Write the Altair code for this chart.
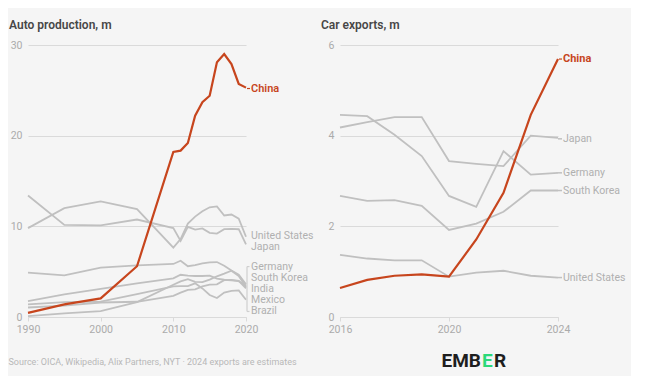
import altair as alt
import pandas as pd

# ---------------- data ----------------
prod_years = [1990, 1995, 2000, 2005, 2010, 2011, 2012, 2013, 2014, 2015, 2016, 2017, 2018, 2019, 2020]
prod_china = [0.45, 1.40, 2.05, 5.6, 18.2, 18.35, 19.2, 22.2, 23.7, 24.4, 28.1, 29.0, 27.9, 25.7, 25.3]
prod_us = [9.8, 12.0, 12.75, 11.9, 7.65, 8.6, 10.3, 11.07, 11.66, 12.1, 12.2, 11.2, 11.3, 10.85, 8.85]
prod_japan = [13.4, 10.15, 10.1, 10.75, 9.8, 8.4, 9.94, 9.63, 9.77, 9.28, 9.2, 9.69, 9.73, 9.68, 8.0]
prod_germany = [4.9, 4.6, 5.45, 5.7, 5.85, 6.2, 5.6, 5.72, 5.91, 6.03, 6.06, 5.65, 5.12, 4.66, 3.6]
prod_korea = [1.75, 2.5, 3.1, 3.7, 4.27, 4.66, 4.56, 4.52, 4.52, 4.56, 4.23, 4.11, 4.03, 3.95, 3.45]
prod_india = [0.1, 0.4, 0.65, 1.64, 3.56, 3.93, 4.17, 3.88, 3.84, 4.13, 4.49, 4.78, 5.1, 4.52, 3.3]
prod_mexico = [1.05, 1.25, 1.6, 1.68, 2.34, 2.68, 3.0, 3.05, 3.37, 3.57, 3.6, 4.07, 4.1, 3.99, 3.15]
prod_brazil = [1.4, 1.65, 1.7, 2.53, 3.38, 3.41, 3.4, 3.71, 3.15, 2.43, 2.1, 2.7, 2.88, 2.94, 1.9]

exp_years = [2016, 2017, 2018, 2019, 2020, 2021, 2022, 2023, 2024]
exp_china = [0.64, 0.82, 0.91, 0.94, 0.89, 1.71, 2.74, 4.46, 5.69]
exp_japan = [4.18, 4.30, 4.41, 4.41, 3.44, 3.38, 3.33, 4.00, 3.95]
exp_germany = [4.46, 4.43, 4.02, 3.55, 2.67, 2.43, 3.66, 3.14, 3.18]
exp_korea = [2.67, 2.56, 2.58, 2.45, 1.92, 2.06, 2.32, 2.79, 2.79]
exp_us = [1.37, 1.29, 1.25, 1.25, 0.89, 0.98, 1.02, 0.91, 0.87]

prod_series = {
    "United States": prod_us, "Japan": prod_japan, "Germany": prod_germany,
    "South Korea": prod_korea, "India": prod_india, "Mexico": prod_mexico,
    "Brazil": prod_brazil, "China": prod_china,
}
exp_series = {
    "Japan": exp_japan, "Germany": exp_germany, "South Korea": exp_korea,
    "United States": exp_us, "China": exp_china,
}

# label anchor heights (in data units, spread so labels don't collide)
prod_label_names = ["China", "United States", "Japan", "Germany", "South Korea", "India", "Mexico", "Brazil"]
prod_label_pos = [25.2, 8.92, 7.72, 5.56, 4.33, 3.04, 1.85, 0.61]
exp_label_names = ["China", "Japan", "Germany", "South Korea", "United States"]
exp_label_pos = [5.69, 3.93, 3.18, 2.79, 0.87]

SOURCE = "Source: OICA, Wikipedia, Alix Partners, NYT · 2024 exports are estimates"

# ---------------- style ----------------
FONT = "Roboto"
RED = "#C7451D"
GREY = "#C0C0C0"
LABEL_GREY = "#B0B0B0"
AXIS_GREY = "#ABABAB"
GRID = "#DADADA"
BG = "#F5F5F5"
W, H = 218, 272


def long_df(years, series):
    rows = []
    for name, vals in series.items():
        for yr, v in zip(years, vals):
            rows.append({"year": yr, "value": v, "series": name})
    return pd.DataFrame(rows)


def panel(years, series, label_names, label_pos, ydomain, yvalues, xvalues, title, bold_china, extra=None):
    df = long_df(years, series)
    xscale = alt.Scale(domain=[years[0], years[-1]], nice=False, zero=False)
    yscale = alt.Scale(domain=ydomain, nice=False, zero=True)
    xaxis = alt.Axis(values=xvalues, format="d", title=None, grid=False, domain=True,
                     domainColor=GRID, domainWidth=1.2, ticks=True, tickColor=GRID, tickSize=4,
                     labelColor=AXIS_GREY, labelFontSize=10.5, labelFont=FONT, labelPadding=3,
                     labelFlush=False)
    yaxis = alt.Axis(values=yvalues, title=None, domain=False, ticks=False, grid=True,
                     gridColor=GRID, gridWidth=1.2, labelColor=AXIS_GREY, labelFontSize=10.5,
                     labelFont=FONT, labelPadding=6)
    base = alt.Chart(df)
    grey = base.transform_filter(alt.datum.series != "China").mark_line(
        color=GREY, strokeWidth=1.8, interpolate="linear"
    ).encode(
        x=alt.X("year:Q", scale=xscale, axis=xaxis),
        y=alt.Y("value:Q", scale=yscale, axis=yaxis),
        detail="series:N",
    )
    china = base.transform_filter(alt.datum.series == "China").mark_line(
        color=RED, strokeWidth=2.2
    ).encode(x=alt.X("year:Q", scale=xscale), y=alt.Y("value:Q", scale=yscale))

    ldf = pd.DataFrame({"series": label_names, "pos": label_pos, "year": [years[-1]] * len(label_names)})
    lbase = alt.Chart(ldf)
    lab_grey = lbase.transform_filter(alt.datum.series != "China").mark_text(
        align="left", baseline="middle", dx=5, font=FONT, fontSize=10.5, color=LABEL_GREY
    ).encode(x=alt.X("year:Q", scale=xscale), y=alt.Y("pos:Q", scale=yscale), text="series:N")
    lab_china = lbase.transform_filter(alt.datum.series == "China").mark_text(
        align="left", baseline="middle", dx=5, font=FONT, fontSize=11,
        fontWeight="bold" if bold_china else 600, color=RED
    ).encode(x=alt.X("year:Q", scale=xscale), y=alt.Y("pos:Q", scale=yscale), text="series:N")
    dash_china = lbase.transform_filter(alt.datum.series == "China").mark_rule(
        color=RED, strokeWidth=1.2, xOffset=1, x2Offset=4
    ).encode(x=alt.X("year:Q", scale=xscale), x2="year:Q", y=alt.Y("pos:Q", scale=yscale))

    ttl = alt.Chart(pd.DataFrame({"t": [title]})).mark_text(
        align="left", baseline="middle", font=FONT, fontSize=12, fontWeight=600, color="#474747"
    ).encode(x=alt.value(-19), y=alt.value(-20), text="t:N")

    layers = [grey, china, lab_grey, lab_china, dash_china, ttl]
    if extra is not None:
        layers += extra(lbase, xscale, yscale)
    return alt.layer(*layers).properties(width=W, height=H)


def left_extra(lbase, xscale, yscale):
    br = pd.DataFrame({"year": [prod_years[-1]], "top": [prod_label_pos[3]], "bot": [prod_label_pos[-1]]})
    b = alt.Chart(br)
    vert = b.mark_rule(color="#CFCFCF", strokeWidth=1.2, xOffset=1).encode(
        x=alt.X("year:Q", scale=xscale), y=alt.Y("top:Q", scale=yscale), y2="bot:Q")
    tip1 = b.mark_rule(color="#CFCFCF", strokeWidth=1.2, xOffset=1, x2Offset=3.5).encode(
        x=alt.X("year:Q", scale=xscale), x2="year:Q", y=alt.Y("top:Q", scale=yscale))
    tip2 = b.mark_rule(color="#CFCFCF", strokeWidth=1.2, xOffset=1, x2Offset=3.5).encode(
        x=alt.X("year:Q", scale=xscale), x2="year:Q", y=alt.Y("bot:Q", scale=yscale))
    src = alt.Chart(pd.DataFrame({"t": [SOURCE]})).mark_text(
        align="left", baseline="middle", font=FONT, fontSize=9, color="#B8B8B8"
    ).encode(x=alt.value(-19.5), y=alt.value(H + 45), text="t:N")
    return [vert, tip1, tip2, src]


def right_extra(lbase, xscale, yscale):
    dash = lbase.transform_filter(alt.datum.series != "China").mark_rule(
        color=GREY, strokeWidth=1.5, xOffset=0, x2Offset=4
    ).encode(x=alt.X("year:Q", scale=xscale), x2="year:Q", y=alt.Y("pos:Q", scale=yscale))
    emb = alt.Chart(pd.DataFrame({"t": ["EMB"]})).mark_text(
        align="right", baseline="middle", font=FONT, fontSize=19, fontWeight="bold", color="#1E1E1E"
    ).encode(x=alt.value(141), y=alt.value(H + 44), text="t:N")
    e = alt.Chart(pd.DataFrame({"t": ["E"]})).mark_text(
        align="left", baseline="middle", font=FONT, fontSize=19, fontWeight="bold", color="#2BD979"
    ).encode(x=alt.value(142), y=alt.value(H + 44), text="t:N")
    r = alt.Chart(pd.DataFrame({"t": ["R"]})).mark_text(
        align="left", baseline="middle", font=FONT, fontSize=19, fontWeight="bold", color="#1E1E1E"
    ).encode(x=alt.value(154), y=alt.value(H + 44), text="t:N")
    return [dash, emb, e, r]


left = panel(prod_years, prod_series, prod_label_names, prod_label_pos, [0, 30], [0, 10, 20, 30],
             [1990, 2000, 2010, 2020], "Auto production, m", False, left_extra)
right = panel(exp_years, exp_series, exp_label_names, exp_label_pos, [0, 6], [0, 2, 4, 6],
              [2016, 2020, 2024], "Car exports, m", True, right_extra)

chart = alt.hconcat(left, right, spacing=94, bounds="flush").properties(
    padding={"left": 0, "top": 11, "right": 5, "bottom": 5},
    background=BG,
).configure(font=FONT, view=alt.ViewConfig(stroke=None))

chart.save("out.html", embed_options={"renderer": "svg", "actions": False})
